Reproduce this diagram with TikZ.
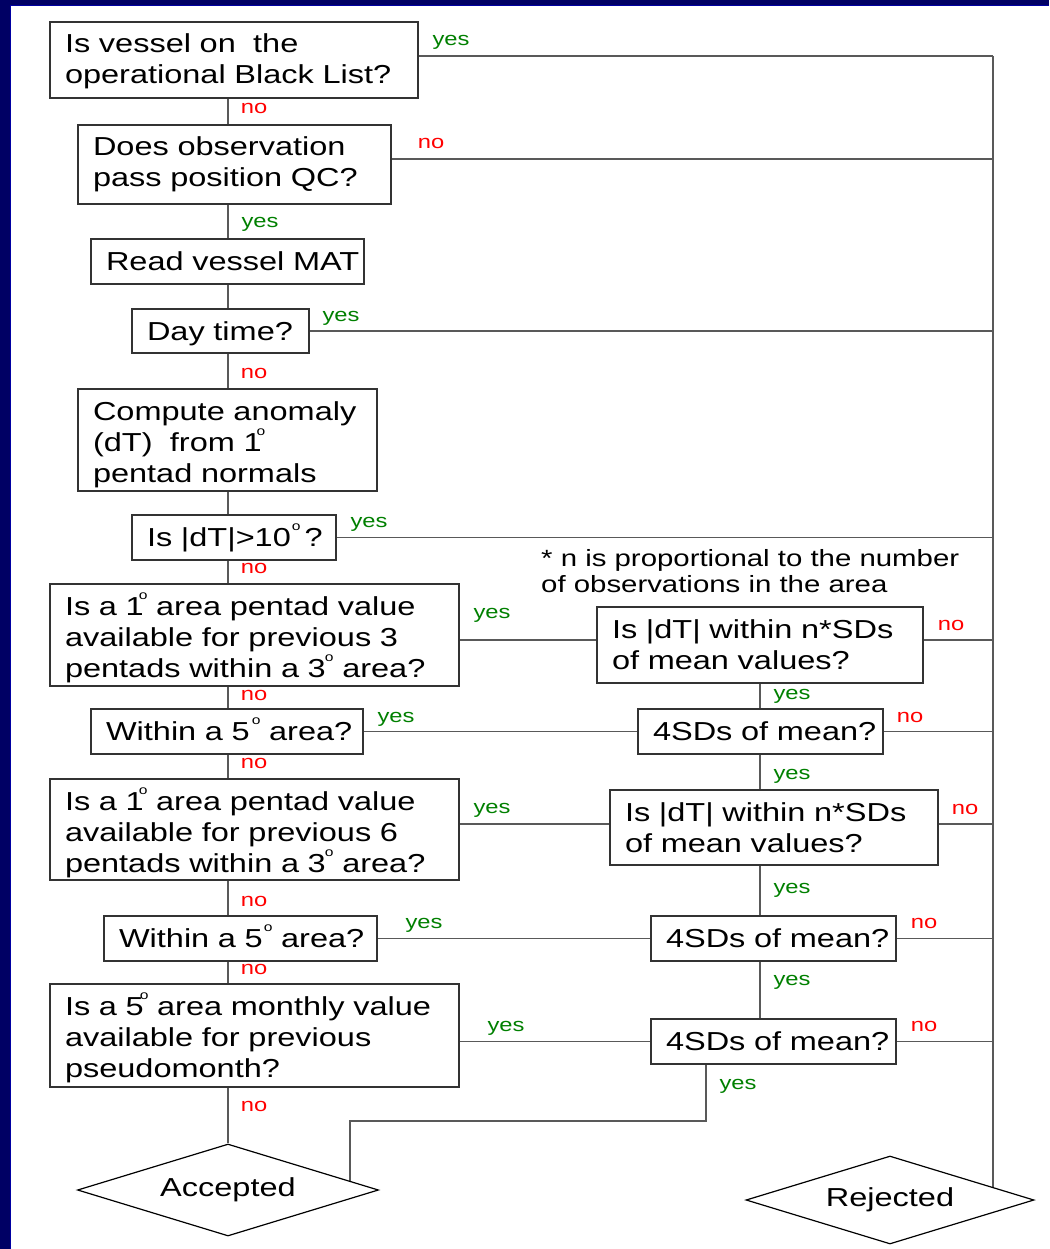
\documentclass[tikz,border=0pt]{standalone}
\usepackage{fontspec}
\setmainfont{Liberation Sans}[FakeStretch=1.25]
\usetikzlibrary{shapes.geometric,backgrounds}
\definecolor{navy}{RGB}{0,0,100}
\definecolor{yesgreen}{RGB}{0,128,0}
\definecolor{nored}{RGB}{255,0,0}
\newcommand\lin[1]{\mbox{#1}}
\newcommand\dg[1][1pt]{\kern#1\raisebox{15.5pt}{\fontsize{12.5}{12.5}\selectfont o}}
\begin{document}
\begin{tikzpicture}[x=1pt,y=-1pt,
  box/.style={draw=black!80, line width=1.3pt, fill=white, rectangle,
    inner xsep=15pt, inner ysep=0pt, align=left, text height=31pt,
    font=\fontsize{26}{31}\selectfont},
  dia/.style={draw=black, line width=1.2pt, fill=white, diamond, inner sep=0pt,
    aspect=3.27, font=\fontsize{26}{31}\selectfont},
  conn/.style={draw=black!65, line width=1.3pt},
  lab/.style={inner sep=0pt, anchor=base, font=\fontsize{19}{19}\selectfont},
  ylab/.style={lab, text=yesgreen},
  nlab/.style={lab, text=nored}]
\begin{pgfonlayer}{background}
\fill[white] (0,0) rectangle (1049,1249);
\end{pgfonlayer}
\useasboundingbox (0,0) rectangle (1049,1249);
\fill[navy] (0,0) rectangle (10,1249);
\fill[navy] (0,0) rectangle (1049,5);
\draw[blue!40!navy, line width=1pt] (10.5,5.5) -- (1049,5.5);
\draw[blue!40!navy, line width=1pt] (10.5,5.5) -- (10.5,1249);

% boxes (left column)
\node[box, minimum width=368pt, minimum height=76pt, text width=338pt, text depth=45pt] (b1) at (234,60)
  {\lin{Is vessel on\ \ the}\\\lin{operational Black List?}};
\node[box, minimum width=313pt, minimum height=79pt, text width=283pt, text depth=48pt] (b2) at (234.5,164.5)
  {\lin{Does observation}\\\lin{pass position QC?}};
\node[box, minimum width=273pt, minimum height=45pt, text width=243pt, text depth=14pt] (b3) at (227.5,261.5)
  {\lin{Read vessel MAT}};
\node[box, minimum width=177pt, minimum height=44pt, text width=147pt, text depth=13pt] (b4) at (220.5,331)
  {\lin{Day time?}};
\node[box, minimum width=299pt, minimum height=102pt, text width=269pt, text depth=71pt] (b5) at (227.5,440)
  {\lin{Compute anomaly}\\\lin{(dT)\ \ from 1\dg[-5pt]}\\\lin{pentad normals}};
\node[box, minimum width=204pt, minimum height=45pt, text width=174pt, text depth=14pt] (b6) at (234,537.5)
  {\lin{Is |dT|>10\dg\kern4pt?}};
\node[box, minimum width=409pt, minimum height=102pt, text width=379pt, text depth=71pt] (b7) at (254.5,635)
  {\lin{Is a 1\dg[-5pt] area pentad value}\\\lin{available for previous 3}\\\lin{pentads within a 3\dg[-1pt] area?}};
\node[box, minimum width=272pt, minimum height=45pt, text width=242pt, text depth=14pt] (b9) at (227,731.5)
  {\lin{Within a 5\dg[2pt] area?}};
\node[box, minimum width=409pt, minimum height=101pt, text width=379pt, text depth=70pt] (b12) at (254.5,829.5)
  {\lin{Is a 1\dg[-5pt] area pentad value}\\\lin{available for previous 6}\\\lin{pentads within a 3\dg[-1pt] area?}};
\node[box, minimum width=273pt, minimum height=45pt, text width=243pt, text depth=14pt] (b13) at (240.5,938.5)
  {\lin{Within a 5\dg[1pt] area?}};
\node[box, minimum width=409pt, minimum height=103pt, text width=379pt, text depth=72pt] (b15) at (254.5,1035.5)
  {\lin{Is a 5\dg[-4pt] area monthly value}\\\lin{available for previous}\\\lin{pseudomonth?}};

% boxes (right column)
\node[box, minimum width=326pt, minimum height=76pt, text width=296pt, text depth=45pt] (b8) at (760,645)
  {\lin{Is |dT| within n*SDs}\\\lin{of mean values?}};
\node[box, minimum width=245pt, minimum height=45pt, text width=215pt, text depth=14pt] (b10) at (760.5,731.5)
  {\lin{4SDs of mean?}};
\node[box, minimum width=328pt, minimum height=75pt, text width=298pt, text depth=44pt] (b11) at (774,827.5)
  {\lin{Is |dT| within n*SDs}\\\lin{of mean values?}};
\node[box, minimum width=245pt, minimum height=45pt, text width=215pt, text depth=14pt] (b14) at (773.5,938.5)
  {\lin{4SDs of mean?}};
\node[box, minimum width=245pt, minimum height=45pt, text width=215pt, text depth=14pt] (b16) at (773.5,1041.5)
  {\lin{4SDs of mean?}};

% terminals
\node[dia, minimum width=301pt, minimum height=92pt] (acc) at (228,1190) {Accepted};
\node[dia, minimum width=288pt, minimum height=88pt] (rej) at (890,1200) {Rejected};

% footnote
\node[anchor=north west, inner sep=0pt, align=left, font=\fontsize{23.5}{26}\selectfont] (note) at (541,549)
  {* n is proportional to the number\\of observations in the area};

% helper coordinates
\coordinate (rail) at (993,56);
\coordinate (j1) at (706,1121);
\coordinate (j2) at (350,1121);

\begin{pgfonlayer}{background}
% right rail
\draw[conn] (rail) -- (rail |- rej.center);
\draw[conn] ([yshift=4pt]b1.east) -- (rail);
\draw[conn] ([yshift=5.5pt]b2.east) -- ([yshift=5.5pt]b2.east -| rail);
\draw[conn] (b4.east) -- (b4.east -| rail);
\draw[conn] (b6.east) -- (b6.east -| rail);
\draw[conn] ([yshift=-5pt]b7.east) -- ([yshift=-5pt]b7.east -| b8.west);
\draw[conn] ([yshift=5pt]b8.east) -- ([yshift=5pt]b8.east -| rail);
\draw[conn] (b9.east) -- (b9.east -| b10.west);
\draw[conn] (b10.east) -- (b10.east -| rail);
\draw[conn] ([yshift=3.5pt]b11.east) -- ([yshift=3.5pt]b11.east -| rail);
\draw[conn] ([yshift=3.5pt]b11.west) -- ([yshift=3.5pt]b11.west -| b12.east);
\draw[conn] (b13.east) -- (b13.east -| b14.west);
\draw[conn] (b14.east) -- (b14.east -| rail);
\draw[conn] (b16.west) -- (b16.west -| b15.east);
\draw[conn] (b16.east) -- (b16.east -| rail);
% main column
\draw[conn] (b1.south -| acc.center) -- (b2.north -| acc.center);
\draw[conn] (b2.south -| acc.center) -- (b3.north -| acc.center);
\draw[conn] (b3.south -| acc.center) -- (b4.north -| acc.center);
\draw[conn] (b4.south -| acc.center) -- (b5.north -| acc.center);
\draw[conn] (b5.south -| acc.center) -- (b6.north -| acc.center);
\draw[conn] (b6.south -| acc.center) -- (b7.north -| acc.center);
\draw[conn] (b7.south -| acc.center) -- (b9.north -| acc.center);
\draw[conn] (b9.south -| acc.center) -- (b12.north -| acc.center);
\draw[conn] (b12.south -| acc.center) -- (b13.north -| acc.center);
\draw[conn] (b13.south -| acc.center) -- (b15.north -| acc.center);
\draw[conn] (b15.south -| acc.center) -- (acc.north);
% right column
\draw[conn] (b8.south) -- (b10.north -| b8.south);
\draw[conn] (b10.south -| b8.center) -- (b11.north -| b8.center);
\draw[conn] (b11.south -| b8.center) -- (b14.north -| b8.center);
\draw[conn] (b14.south -| b8.center) -- (b16.north -| b8.center);
\draw[conn] (b16.south -| j1) -- (j1) -- (j2) -- (j2 |- acc.center);
\end{pgfonlayer}

% labels
\node[ylab] (l1) at (451,46) {yes};
\node[nlab] (l2) at (254,114) {no};
\node[nlab] (l3) at (431,149) {no};
\node[ylab] (l4) at (260,228) {yes};
\node[ylab] (l5) at (341,321) {yes};
\node[nlab] (l6) at (254,378) {no};
\node[ylab] (l7) at (369,527) {yes};
\node[nlab] (l8) at (254,573) {no};
\node[ylab] (l9) at (492,618) {yes};
\node[nlab] (l10) at (951,630) {no};
\node[ylab] (l11) at (792,699) {yes};
\node[nlab] (l12) at (254,700) {no};
\node[ylab] (l13) at (396,722) {yes};
\node[nlab] (l14) at (910,722) {no};
\node[nlab] (l15) at (254,768) {no};
\node[ylab] (l16) at (792,779) {yes};
\node[ylab] (l17) at (492,813) {yes};
\node[nlab] (l18) at (965,814) {no};
\node[ylab] (l19) at (792,893) {yes};
\node[nlab] (l20) at (254,906) {no};
\node[ylab] (l21) at (424,928) {yes};
\node[nlab] (l22) at (924,928) {no};
\node[nlab] (l23) at (254,974) {no};
\node[ylab] (l24) at (792,985) {yes};
\node[ylab] (l25) at (506,1031) {yes};
\node[nlab] (l26) at (924,1031) {no};
\node[ylab] (l27) at (738,1089) {yes};
\node[nlab] (l28) at (254,1111) {no};
\end{tikzpicture}
\end{document}
